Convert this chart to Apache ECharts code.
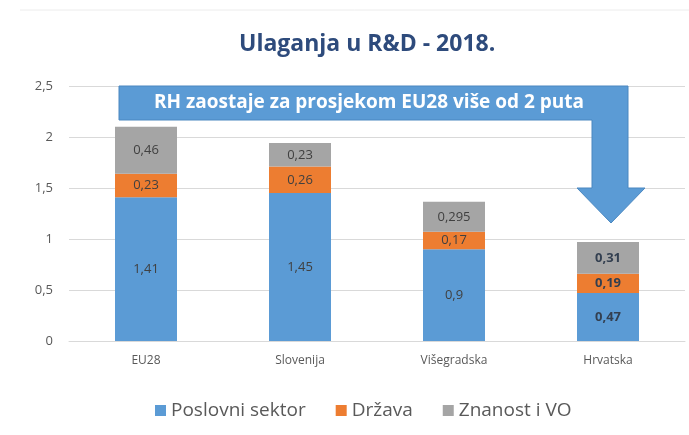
<!DOCTYPE html>
<html>
<head>
<meta charset="utf-8">
<script src="https://cdn.jsdelivr.net/npm/echarts@6/dist/echarts.min.js"></script>
<style>html,body{margin:0;padding:0;background:#fff}#c{width:689px;height:435px}</style>
</head>
<body>
<div id="c"></div>
<script>
var categories = ['EU28', 'Slovenija', 'Višegradska', 'Hrvatska'];
var poslovni = [1.41, 1.45, 0.9, 0.47];
var drzava = [0.23, 0.26, 0.17, 0.19];
var znanost = [0.46, 0.23, 0.295, 0.31];
var seriesNames = ['Poslovni sektor', 'Država', 'Znanost i VO'];
var colors = ['#5B9BD5', '#ED7D31', '#A5A5A5'];

function fmt(v){ return String(v).replace('.', ','); }
function mk(name, arr, color){
  return {
    name: name, type: 'bar', stack: 'a', barWidth: 62,
    itemStyle: {color: color},
    data: arr.map(function(v, i){
      return {value: v, label: {fontWeight: i === 3 ? 'bold' : 'normal', color: i === 3 ? '#333f50' : '#404040'}};
    }),
    label: {show: true, position: 'inside', fontFamily: 'Open Sans', fontSize: 13,
      formatter: function(p){ return fmt(p.value); }}
  };
}
var chart = echarts.init(document.getElementById('c'));
chart.setOption({
  animation: false,
  title: {text: 'Ulaganja u R&D - 2018.', left: 234, top: 28,
    textStyle: {fontFamily: 'Open Sans', fontWeight: 'bold', fontSize: 23, color: '#2E4B7C'}},
  grid: {left: 69, right: 4, top: 86, bottom: 94},
  legend: {top: 396, left: 150, itemWidth: 11, itemHeight: 11, itemGap: 30, icon: 'rect',
    textStyle: {fontFamily: 'Open Sans', fontSize: 19, color: '#595959'}},
  xAxis: {type: 'category', data: categories,
    axisLine: {lineStyle: {color: '#d9d9d9'}}, axisTick: {show: false},
    axisLabel: {fontFamily: 'Open Sans', fontSize: 12, color: '#595959', margin: 14}},
  yAxis: {type: 'value', min: 0, max: 2.5, interval: 0.5,
    axisLine: {show: false}, axisTick: {show: false},
    splitLine: {lineStyle: {color: '#d9d9d9'}},
    axisLabel: {fontFamily: 'Open Sans', fontSize: 13, color: '#595959', margin: 16, formatter: fmt}},
  series: [mk(seriesNames[0], poslovni, colors[0]), mk(seriesNames[1], drzava, colors[1]), mk(seriesNames[2], znanost, colors[2])],
  graphic: [
    {type: 'line', shape: {x1: 20, y1: 10, x2: 689, y2: 10}, style: {stroke: '#ececec', lineWidth: 1}},
    {type: 'polygon', z: 100,
      shape: {points: [[119,86],[628,86],[628,188],[645,188],[611,223],[577,188],[592,188],[592,120],[119,120]]},
      style: {fill: '#5B9BD5', stroke: '#4a87c0', lineWidth: 1}},
    {type: 'text', z: 101, x: 369, y: 103,
      style: {text: 'RH zaostaje za prosjekom EU28 više od 2 puta', fill: '#fff',
        font: 'bold 19px "Open Sans"', textAlign: 'center', textVerticalAlign: 'middle'}}
  ]
});
</script>
</body>
</html>
